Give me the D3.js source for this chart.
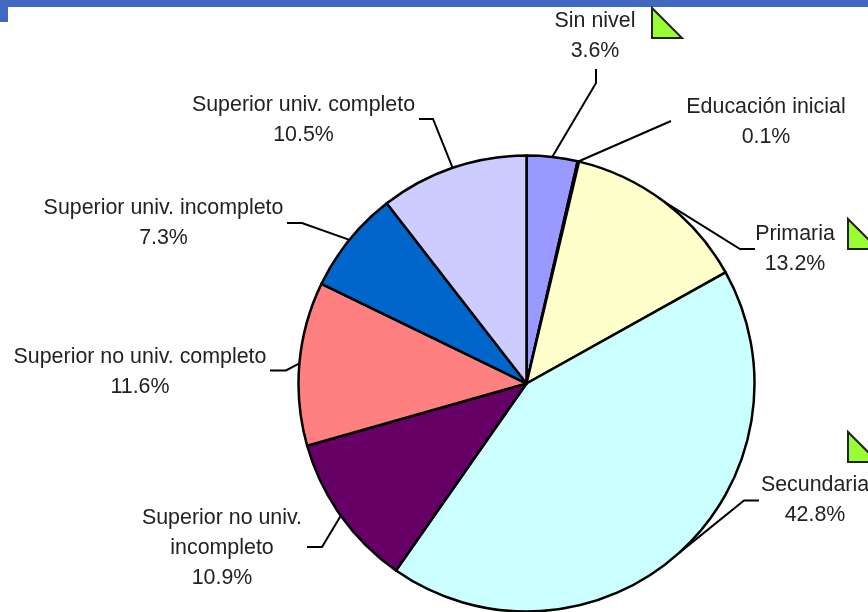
<!DOCTYPE html>
<html>
<head>
<meta charset="utf-8">
<script src="https://cdn.jsdelivr.net/npm/d3@7"></script>
<style>
  html, body { margin: 0; padding: 0; background: #fff; }
  svg { display: block; filter: blur(0.45px); }
  text { font-family: "Liberation Sans", Arial, sans-serif; font-size: 21.4px; fill: #222; }
</style>
</head>
<body>
<div id="chart"></div>
<script>
const categories = ["Sin nivel", "Educación inicial", "Primaria", "Secundaria",
  "Superior no univ. incompleto", "Superior no univ. completo",
  "Superior univ. incompleto", "Superior univ. completo"];
const percents = [3.6, 0.1, 13.2, 42.8, 10.9, 11.6, 7.3, 10.5];
const sliceColors = ["#9999ff", "#993366", "#ffffcc", "#ccffff", "#660066", "#ff8080", "#0066cc", "#ccccff"];

// label placement, same order as categories: text lines, text centre, leader elbow + end
const labelLines = [["Sin nivel"], ["Educación inicial"], ["Primaria"], ["Secundaria"],
  ["Superior no univ.", "incompleto"], ["Superior no univ. completo"],
  ["Superior univ. incompleto"], ["Superior univ. completo"]];
const labelPos = [[595, 20], [766, 106], [795, 233], [815, 484], [222, 517], [140, 356], [163.5, 207], [303.5, 104]];
const leaderPts = [
  [[596, 83], [596, 69]],
  [[671, 121]],
  [[740, 249], [755, 249]],
  [[744, 500.5], [759, 500.5]],
  [[322, 547], [307, 547]],
  [[286, 370.5], [270, 370.5]],
  [[302, 223], [287, 223]],
  [[433, 119], [419, 119]]
];

const width = 868, height = 612;
const cx = 526.5, cy = 383.5, radius = 228;

const svg = d3.select("#chart").append("svg")
  .attr("width", width)
  .attr("height", height)
  .attr("viewBox", [0, 0, width, height]);

// slide header bar
svg.append("path")
  .attr("d", "M0,0H868V7H8V22H0Z")
  .attr("fill", "#4169bf");

const pie = d3.pie().sort(null).value(d => d);
const arcs = pie(percents);
const arc = d3.arc().innerRadius(0).outerRadius(radius);

const g = svg.append("g").attr("transform", `translate(${cx},${cy})`);

g.selectAll("path")
  .data(arcs)
  .enter()
  .append("path")
  .attr("d", arc)
  .attr("fill", (d, i) => sliceColors[i])
  .attr("stroke", "#000")
  .attr("stroke-width", 2.5)
  .attr("stroke-linejoin", "round");

// leaders start on the rim at each slice's mid angle
const line = d3.line();
svg.append("g")
  .selectAll("path")
  .data(arcs)
  .enter()
  .append("path")
  .attr("fill", "none")
  .attr("stroke", "#000")
  .attr("stroke-width", 2)
  .attr("d", (d, i) => {
    const a = (d.startAngle + d.endAngle) / 2;
    const start = [cx + radius * Math.sin(a), cy - radius * Math.cos(a)];
    return line([start, ...leaderPts[i]]);
  });

const labels = svg.append("g")
  .selectAll("text")
  .data(categories)
  .enter()
  .append("text")
  .attr("text-anchor", "middle")
  .attr("transform", (d, i) => `translate(${labelPos[i][0]},${labelPos[i][1]})`);

labels.each(function (d, i) {
  const rows = labelLines[i].concat(d3.format(".1f")(percents[i]) + "%");
  d3.select(this).selectAll("tspan")
    .data(rows)
    .enter()
    .append("tspan")
    .attr("x", 0)
    .attr("y", (r, j) => 7 + j * 30)
    .text(r => r);
});

// green callout triangles
const triangles = [[652, 38], [848, 249], [848, 462]];
svg.append("g")
  .selectAll("path")
  .data(triangles)
  .enter()
  .append("path")
  .attr("d", d => `M${d[0]},${d[1]}V${d[1] - 30}L${d[0] + 30},${d[1]}Z`)
  .attr("fill", "#99ff33")
  .attr("stroke", "#222")
  .attr("stroke-width", 2);
</script>
</body>
</html>
